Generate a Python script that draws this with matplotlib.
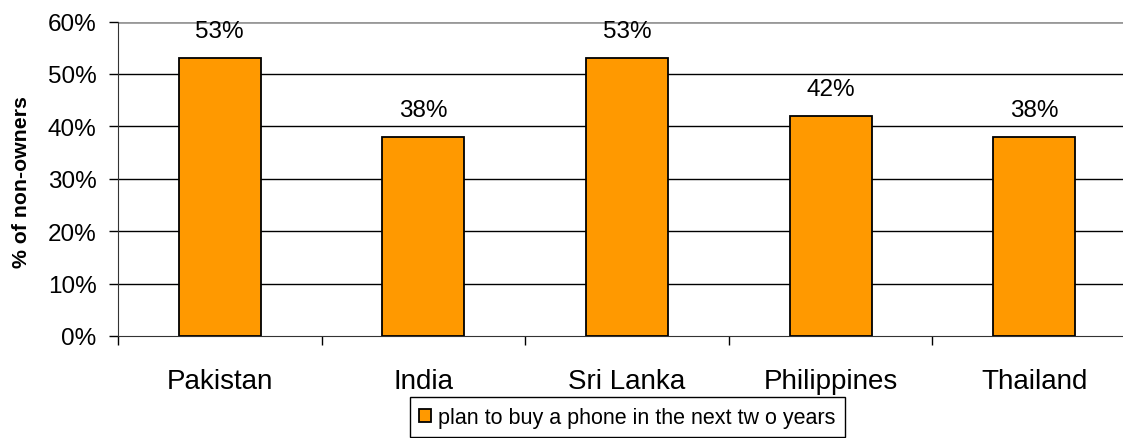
import matplotlib.pyplot as plt
from matplotlib.ticker import FuncFormatter, FixedLocator

plt.rcParams['font.family'] = ['Liberation Sans', 'DejaVu Sans']

countries = ['Pakistan', 'India', 'Sri Lanka', 'Philippines', 'Thailand']
plan_to_buy = [53, 38, 53, 42, 38]
series_label = 'plan to buy a phone in the next tw o years'

W, H = 1123, 439
fig = plt.figure(figsize=(W / 100, H / 100), dpi=100)
# plot area runs slightly past the right edge of the picture, as in the original
ax = fig.add_axes([118 / W, 1 - 337 / H, 1018 / W, 314.5 / H])

x = list(range(len(countries)))
ax.bar(x, plan_to_buy, width=0.403, color='#FF9900', edgecolor='black',
       linewidth=1.3, label=series_label, zorder=3)

for xi, v in zip(x, plan_to_buy):
    ax.text(xi, v + 4, f'{v}%', ha='center', va='baseline', fontsize=17.5)

ax.set_xlim(-0.5, len(countries) - 0.5)
ax.set_ylim(0, 60)
ax.set_yticks(range(0, 61, 10))
ax.yaxis.set_major_formatter(FuncFormatter(lambda v, p: f'{int(v)}%'))
ax.tick_params(axis='y', labelsize=17.5, direction='out', length=6.5, width=1, pad=9)

# category boundary ticks, labels at centres
ax.xaxis.set_major_locator(FixedLocator([i - 0.5 for i in range(len(countries) + 1)]))
ax.xaxis.set_minor_locator(FixedLocator(x))
ax.set_xticklabels([])
ax.set_xticklabels(countries, minor=True)
ax.tick_params(axis='x', which='major', direction='out', length=6.5, width=1)
ax.tick_params(axis='x', which='minor', length=0, labelsize=20, pad=23)

for yv in range(10, 60, 10):
    ax.axhline(yv, color='black', linewidth=1, zorder=1)
ax.axhline(60, color='#999999', linewidth=2, zorder=1)

ax.spines['top'].set_visible(False)
ax.spines['right'].set_visible(False)
ax.spines['left'].set_color('#333333')
ax.spines['bottom'].set_color('#333333')

ax.set_ylabel('% of non-owners', fontsize=15.3, fontweight='bold')
ax.yaxis.set_label_coords(-0.0855, 0.493)

fig.legend(loc='upper center', bbox_to_anchor=(627.5 / W, 1 - 398 / H), fontsize=15.5,
           frameon=True, fancybox=False, edgecolor='black', framealpha=1,
           handlelength=0.56, handleheight=0.56, handletextpad=0.33,
           borderpad=0.45, borderaxespad=0)

fig.savefig('out.png', dpi=100)
